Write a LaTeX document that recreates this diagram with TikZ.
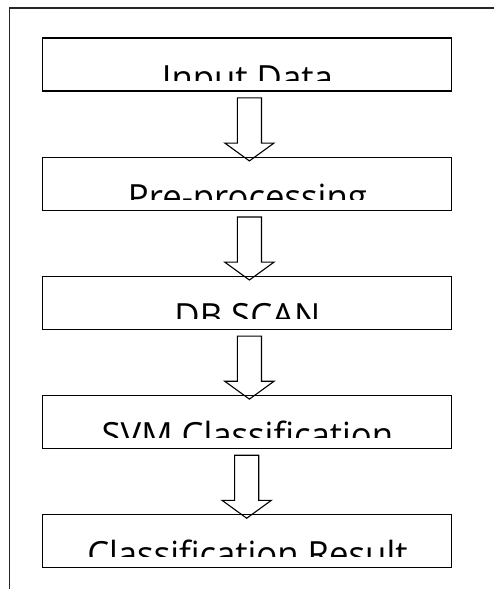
\documentclass[tikz,border=0pt]{standalone}
\usepackage{fontspec}
\setmainfont{Open Sans}
\usetikzlibrary{positioning,calc,shapes.arrows}

\tikzset{
  stepbox/.style={draw, line width=1.1pt, minimum width=409pt, minimum height=53pt, inner sep=0pt},
  steptext/.style={anchor=base, inner sep=0pt, font=\fontsize{34.7}{40}\selectfont},
  flowarrow/.style={single arrow, draw, line width=1.1pt, shape border rotate=270,
    inner sep=11.5pt, minimum height=63pt, single arrow head extend=12.5pt,
    single arrow tip angle=108, single arrow head indent=0pt},
}

% text of a step, cut off a little above the lower edge of its box
\newcommand{\boxlabel}[3]{%
  \begin{scope}
    \clip (#1.north west) rectangle ($(#1.south east)+(0,11)$);
    \node[steptext] (#2) at ($(#1.south)+(0,1)$) {#3};
  \end{scope}}

\begin{document}
\begin{tikzpicture}[x=1pt,y=1pt]
				\useasboundingbox (0,0) rectangle (494,-589);
				\draw[line width=1.2pt, black!85] (9.5,-589) -- (9.5,-8) -- (494,-8);
				\node[stepbox] (in) at (247.4,-64.5) {};
				\node[stepbox, below=65pt of in] (pre) {};
				\node[stepbox, below=65pt of pre] (db) {};
				\node[stepbox, below=65pt of db] (svm) {};
				\node[stepbox, below=65pt of svm] (res) {};
				\boxlabel{in}{inT}{Input Data}
				\boxlabel{pre}{preT}{Pre-processing}
				\boxlabel{db}{dbT}{DB SCAN}
				\boxlabel{svm}{svmT}{SVM Classification}
				\boxlabel{res}{resT}{Classification Result}
				\node[flowarrow] (a1) at ($(in.south)!0.5!(pre.north)+(2,-1)$) {};
				\node[flowarrow] (a2) at ($(pre.south)!0.5!(db.north)+(2,-1)$) {};
				\node[flowarrow] (a3) at ($(db.south)!0.5!(svm.north)+(2,-1)$) {};
				\node[flowarrow] (a4) at ($(svm.south)!0.5!(res.north)+(-0.7,-1)$) {};
			\end{tikzpicture}
\end{document}
